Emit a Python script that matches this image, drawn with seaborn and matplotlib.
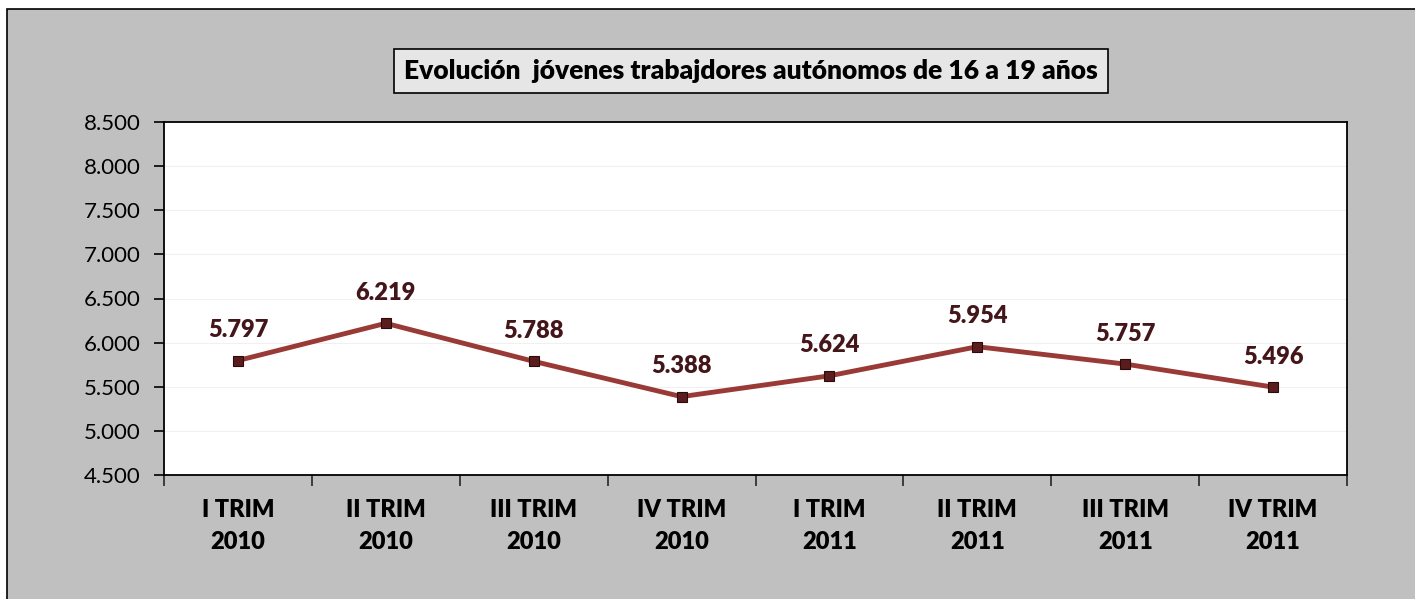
import matplotlib
matplotlib.use("Agg")
import matplotlib.pyplot as plt
from matplotlib.patches import Rectangle
from matplotlib.ticker import FixedLocator, FuncFormatter
import numpy as np
import pandas as pd
import seaborn as sns

# %% Data
quarters = ["I TRIM\n2010", "II TRIM\n2010", "III TRIM\n2010", "IV TRIM\n2010",
            "I TRIM\n2011", "II TRIM\n2011", "III TRIM\n2011", "IV TRIM\n2011"]
workers = [5797, 6219, 5788, 5388, 5624, 5954, 5757, 5496]
y_ticks = [4500, 5000, 5500, 6000, 6500, 7000, 7500, 8000, 8500]

df = pd.DataFrame({"pos": np.arange(len(quarters)), "value": workers})

# %% Style
sns.set_style("white")
plt.rcParams['font.family'] = ['Lato', 'DejaVu Sans']

line_col = '#993a36'
marker_col = '#5a1c1c'
label_col = '#44161a'
bg_col = '#c0c0c0'

fig = plt.figure(figsize=(14.15, 5.99), dpi=100)
fig.patch.set_facecolor('white')

# grey chart area with black border on left/top
fig.patches.append(Rectangle((7 / 1415, -0.01), 1.02, 1 - 9 / 599 + 0.01,
                             transform=fig.transFigure, facecolor=bg_col,
                             edgecolor='black', linewidth=1.2, zorder=-5))

ax = fig.add_axes([164 / 1415, 1 - 475 / 599, (1347 - 164) / 1415, (475 - 122) / 599])
ax.set_zorder(2)
ax.set_facecolor('white')

sns.lineplot(x='pos', y='value', data=df, ax=ax, color=line_col, linewidth=3.5,
             marker='s', markersize=7, markerfacecolor=marker_col,
             markeredgecolor='#2a0a0a', markeredgewidth=0.8)

# value labels
for x, v in zip(df['pos'], df['value']):
    ax.annotate(f"{v:,}".replace(",", "."), (x, v), xytext=(0, 14),
                textcoords='offset points', ha='center', va='bottom',
                fontsize=17, fontweight='heavy', color=label_col)

ax.set_xlim(-0.5, len(quarters) - 0.5)
ax.set_ylim(4500, 8500)
ax.set_yticks(y_ticks)
ax.yaxis.set_major_formatter(FuncFormatter(lambda v, p: f"{int(v):,}".replace(",", ".")))
ax.tick_params(axis='y', direction='out', length=7, width=1.2, labelsize=16,
               left=True, pad=10, colors='black')

ax.set_xticks(df['pos'])
ax.set_xticklabels(quarters, fontsize=17, fontweight='heavy', linespacing=1.6, color='black')
ax.tick_params(axis='x', which='major', length=0, pad=17)
ax.xaxis.set_minor_locator(FixedLocator(np.arange(-0.5, len(quarters), 1.0)))
ax.tick_params(axis='x', which='minor', direction='out', length=8, width=1.2, bottom=True)

ax.grid(axis='y', color='#f0f0f0', linewidth=0.8)
ax.set_axisbelow(True)
ax.set_xlabel("")
ax.set_ylabel("")
for s in ax.spines.values():
    s.set_visible(True)
    s.set_color('black')
    s.set_linewidth(1.3)

fig.text(751 / 1415, 1 - 71 / 599, "Evolución  jóvenes trabajdores autónomos de 16 a 19 años",
         ha='center', va='center', fontsize=19, fontweight='heavy', color='black',
         bbox=dict(boxstyle='square,pad=0.38', facecolor='#e6e6e6', edgecolor='black', linewidth=1.2))

plt.savefig("out.png", dpi=100, facecolor=fig.get_facecolor())
